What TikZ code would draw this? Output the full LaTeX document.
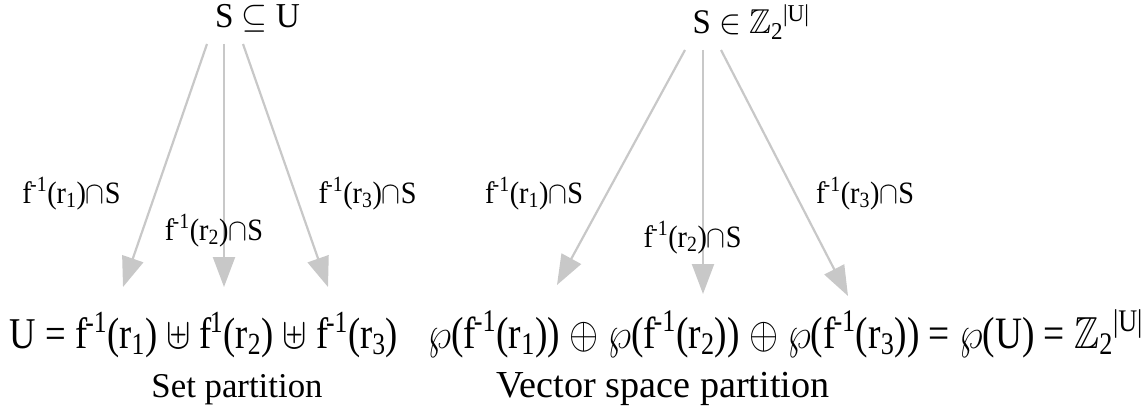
\documentclass[tikz,border=0pt]{standalone}
\usepackage{fix-cm}
\usepackage{amssymb}
\usepackage{graphicx}
\usepackage{fontspec}
\setmainfont{Liberation Serif}
\usetikzlibrary{arrows.meta}
\definecolor{arrowgray}{RGB}{200,200,200}
\newcommand{\finv}{f\kern-0.06em\textsuperscript{-1}}
\newcommand{\fone}{f\kern-0.06em\textsuperscript{1}}
\newcommand{\lbltext}[1]{\finv(r\textsubscript{#1})$\cap$S}
\newcommand{\fitbox}[3]{\scalebox{1}[#2]{\resizebox{#1}{!}{#3}}}
\begin{document}
\begin{tikzpicture}[x=1pt,y=-1pt,
  txt/.style={inner sep=0pt, outer sep=0pt, anchor=base, font=\fontsize{30}{36}\selectfont},
  lbl/.style={inner sep=0pt, outer sep=0pt, anchor=base, font=\fontsize{24}{28}\selectfont},
  arr/.style={draw=arrowgray, line width=2.2pt, -{Triangle[length=30pt,width=22pt]}}]
\useasboundingbox (0,0) rectangle (1145,412);
% top nodes
\node[txt] (topL) at (257.5,27.5) {\fitbox{85pt}{1.05}{S $\subseteq$ U}};
\node[txt] (topR) at (751,34) {\fitbox{117pt}{1.05}{S $\in$ $\mathbb{Z}$\textsubscript{2}\textsuperscript{|U|}}};
% bottom nodes
\node[txt] (botL) at (204,348) {\fitbox{388pt}{1.2}{U = \finv(r\textsubscript{1}) $\uplus$ \fone(r\textsubscript{2}) $\uplus$ \finv(r\textsubscript{3})}};
\node[txt] (capL) at (237,397) {\resizebox{171pt}{!}{Set partition}};
\node[txt] (botR) at (785.5,348) {\fitbox{715pt}{1.2}{$\wp$(\finv(r\textsubscript{1})) $\oplus$ $\wp$(\finv(r\textsubscript{2})) $\oplus$ $\wp$(\finv(r\textsubscript{3})) = $\wp$(U) = $\mathbb{Z}$\textsubscript{2}\textsuperscript{|U|}}};
\node[txt] (capR) at (663,397) {\resizebox{333pt}{!}{Vector space partition}};
% arrow end points
\coordinate (sL1) at (207,44);  \coordinate (eL1) at (123,287);
\coordinate (sL2) at (224,44);  \coordinate (eL2) at (224,287);
\coordinate (sL3) at (243,44);  \coordinate (eL3) at (328,287);
\coordinate (sR1) at (685,50);  \coordinate (eR1) at (557,285);
\coordinate (sR2) at (703,50);  \coordinate (eR2) at (703,294);
\coordinate (sR3) at (721,50);  \coordinate (eR3) at (848,296);
\draw[arr] (sL1) -- (eL1);
\draw[arr] (sL2) -- (eL2);
\draw[arr] (sL3) -- (eL3);
\draw[arr] (sR1) -- (eR1);
\draw[arr] (sR2) -- (eR2);
\draw[arr] (sR3) -- (eR3);
% labels
\node[lbl] (lL1) at (71.5,203) {\fitbox{98pt}{1.1}{\lbltext{1}}};
\node[lbl] (lL2) at (214,240) {\fitbox{98pt}{1.1}{\lbltext{2}}};
\node[lbl] (lL3) at (367.5,203) {\fitbox{98pt}{1.1}{\lbltext{3}}};
\node[lbl] (lR1) at (534,203) {\fitbox{98pt}{1.1}{\lbltext{1}}};
\node[lbl] (lR2) at (692.5,247) {\fitbox{98pt}{1.1}{\lbltext{2}}};
\node[lbl] (lR3) at (865,203) {\fitbox{98pt}{1.1}{\lbltext{3}}};
\end{tikzpicture}
\end{document}
